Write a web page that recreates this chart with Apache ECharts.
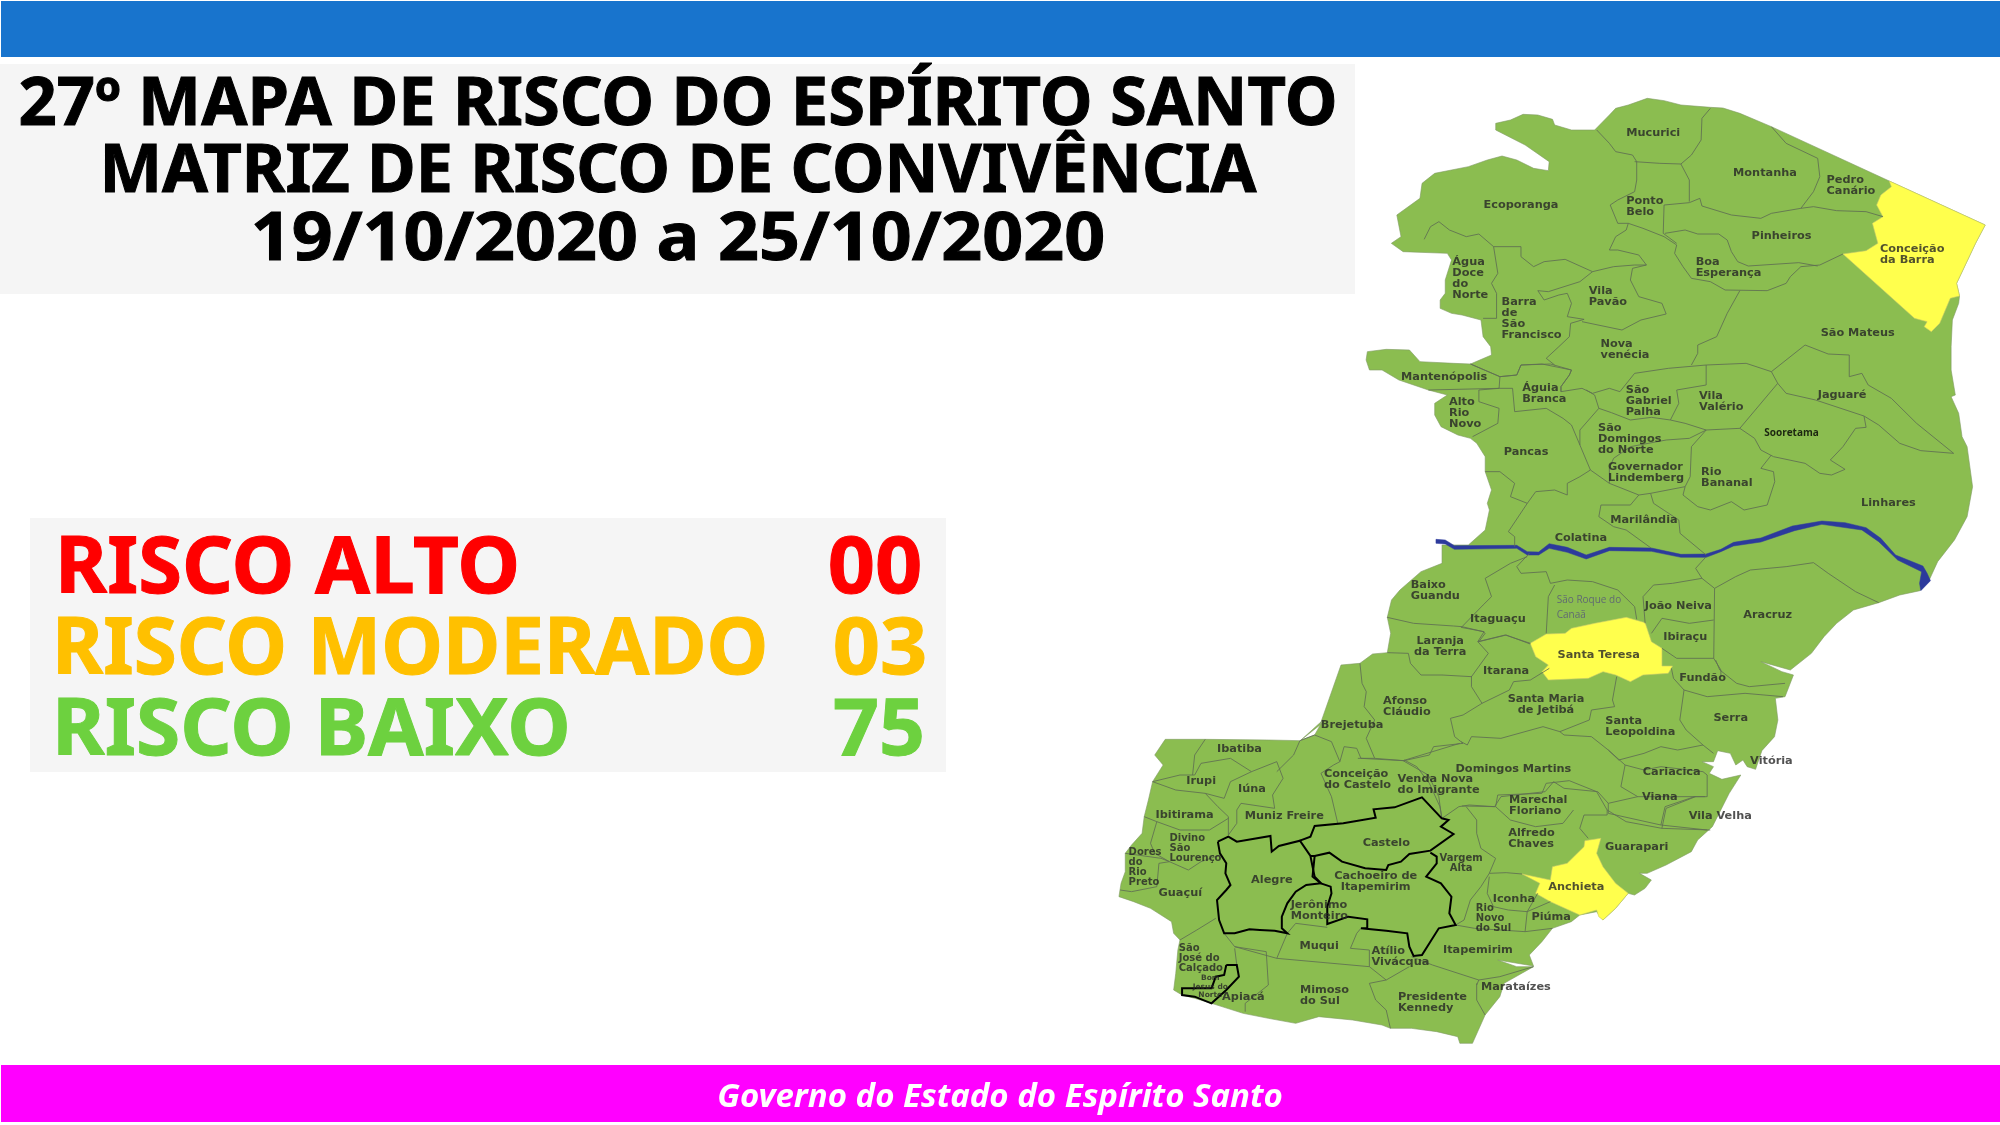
<!DOCTYPE html>
<html>
<head>
<meta charset="utf-8">
<title>Mapa de risco ES</title>
<script src="https://cdn.jsdelivr.net/npm/echarts@6/dist/echarts.min.js"></script>
<style>
  html, body { margin: 0; padding: 0; background: #fff; }
  #chart { width: 2000px; height: 1125px; }
</style>
</head>
<body>
<div id="chart"></div>
<script>
const titleLines = ['27º MAPA DE RISCO DO ESPÍRITO SANTO', 'MATRIZ DE RISCO DE CONVIVÊNCIA', '19/10/2020 a 25/10/2020'];
const footerText = 'Governo do Estado do Espírito Santo';
const riskNames = ['RISCO ALTO', 'RISCO MODERADO', 'RISCO BAIXO'];
const riskCounts = ['00', '03', '75'];
const moderateCities = ['Conceição\nda Barra', 'Santa Teresa', 'Anchieta'];
const cityNames = [
  'Mucurici', 'Montanha', 'Pedro\nCanário', 'Conceição\nda Barra', 'Ponto\nBelo', 'Ecoporanga', 'Pinheiros',
  'Boa\nEsperança', 'Água\nDoce\ndo\nNorte', 'Vila\nPavão', 'Barra\nde\nSão\nFrancisco', 'São Mateus', 'Nova\nvenécia',
  'Mantenópolis', 'Águia\nBranca', 'São\nGabriel\nPalha', 'Vila\nValério', 'Jaguaré', 'Alto\nRio\nNovo', 'Pancas',
  'São\nDomingos\ndo Norte', 'Sooretama', 'Governador\nLindemberg', 'Rio\nBananal', 'Linhares', 'Marilândia', 'Colatina',
  'Baixo\nGuandu', 'Itaguaçu', 'São Roque do\nCanaã', 'João Neiva', 'Aracruz', 'Ibiraçu', 'Laranja\nda Terra',
  'Santa Teresa', 'Itarana', 'Fundão', 'Afonso\nCláudio', 'Santa Maria\nde Jetibá', 'Brejetuba', 'Santa\nLeopoldina',
  'Serra', 'Vitória', 'Domingos Martins', 'Cariacica', 'Viana', 'Vila Velha', 'Ibatiba', 'Irupi', 'Iúna',
  'Conceição\ndo Castelo', 'Venda Nova\ndo Imigrante', 'Ibitirama', 'Muniz Freire', 'Marechal\nFloriano', 'Castelo',
  'Alfredo\nChaves', 'Guarapari', 'Divino\nSão\nLourenço', 'Dores\ndo\nRio\nPreto', 'Vargem\nAlta', 'Alegre',
  'Cachoeiro de\nItapemirim', 'Anchieta', 'Guaçuí', 'Iconha', 'Jerônimo\nMonteiro', 'Rio\nNovo\ndo Sul', 'Piúma', 'Muqui',
  'Itapemirim', 'Atílio\nVivácqua', 'São\nJosé do\nCalçado', 'Marataízes', 'Bom\nJesus do\nNorte', 'Apiacá',
  'Mimoso\ndo Sul', 'Presidente\nKennedy'
];

// o mapa foi traçado em quatro recortes, cada um com sua origem
const sheet = (x0, y0) => pts => pts.map(p => [x0 + p[0] / 2.376, -(y0 + p[1] / 3)]);
const A = sheet(1340, 80), B = sheet(1340, 340), C = sheet(1240, 540), D = sheet(1100, 720);

const outline = [
  ...A([[370,130],[405,120],[435,103],[470,105],[505,118],[510,135],[550,150],[605,150],[640,105],[655,85],[685,75],[730,55],[770,62],[810,75],[880,82],[910,84],[950,100],[1025,140],[1305,303],[1533,435],[1510,490],[1480,570],[1465,610],[1472,648],[1470,670],[1455,720],[1452,800]]),
  ...B([[1452,90],[1462,165],[1452,170],[1470,220],[1478,290],[1490,320],[1503,440],[1490,530],[1460,600],[1420,665],[1400,720],[1378,752],[1330,765],[1280,788],[1220,810],[1180,850],[1150,890],[1120,940],[1070,990],[1000,965],[1050,995]]),
  ...C([[1315,405],[1295,470],[1272,475],[1278,540],[1270,590],[1240,632],[1225,688],[1205,680],[1195,660],[1178,675],[1165,640],[1135,632],[1125,665],[1098,665],[1125,680],[1115,700],[1145,718],[1190,705]]),
  ...D([[1495,220],[1455,320],[1420,360],[1405,395],[1345,435],[1300,460],[1282,460],[1310,480],[1295,505],[1270,525],[1255,520],[1225,565],[1195,600],[1180,575],[1140,585],[1120,605],[1075,625],[1050,665],[1020,705],[1030,738],[945,720],[990,740],[1030,740],[960,790],[950,830],[915,885],[885,970],[855,970],[850,950],[800,935],[740,925],[690,925],[670,915],[600,900],[520,890],[465,910],[400,895],[340,880],[265,850],[225,835],[195,825],[175,810],[180,760],[185,690],[190,660],[175,640],[170,605],[120,565],[80,545],[45,530],[50,490],[60,455],[60,400],[75,375],[100,340],[105,290],[115,240],[125,185],[150,135],[130,105],[155,58],[250,58],[400,60],[475,62],[510,45],[530,0]]),
  ...C([[145,600],[190,555],[240,375],[285,370],[315,342],[350,338],[358,280],[350,232],[360,180],[380,150],[430,95],[480,70],[480,15]]),
  ...B([[305,615],[345,570],[355,510],[350,490],[360,450],[345,395],[345,350],[325,310],[310,295],[280,285],[240,260],[225,225],[225,190],[255,165],[210,150],[140,120],[100,90],[70,90],[62,60],[65,35],[110,28],[165,30],[190,65],[270,70],[310,72],[360,45],[358,20],[340,-10],[335,-60],[290,-75],[265,-80],[238,-95],[238,-120],[250,-140],[250,-180],[265,-240],[255,-260]]),
  ...A([[150,515],[122,490],[145,470],[135,405],[190,355],[195,310],[225,280],[305,260],[350,240],[385,228],[420,240],[460,265],[495,272],[497,245],[440,195],[370,150]])
];
const barraShape = A([[1305,303],[1533,435],[1510,490],[1480,570],[1465,610],[1472,648],[1450,655],[1435,700],[1425,730],[1405,755],[1388,740],[1395,725],[1365,715],[1195,522],[1250,512],[1278,490],[1265,430],[1290,410],[1275,375],[1285,345],[1310,320]]);
const teresaShape = B([[452,910],[490,882],[535,880],[550,865],[605,850],[680,832],[725,848],[740,905],[765,925],[765,978],[790,978],[780,1000],[720,1005],[690,1025],[655,1005],[625,995],[590,1015],[495,1020],[480,995],[495,975],[465,950]]);
const anchietaShape = D([[1190,355],[1180,400],[1195,440],[1225,490],[1255,520],[1225,565],[1195,600],[1185,590],[1180,570],[1140,585],[1070,545],[1035,520],[1045,490],[1003,462],[1070,480],[1075,440],[1110,430],[1150,380],[1152,362]]);

// Rio Doce: margem de cima e depois a de baixo
const riverShape = B([[228,598],[250,600],[272,617],[420,616],[445,635],[472,636],[497,611],[540,622],[585,645],[640,622],[740,624],[810,643],[870,642],[905,628],[935,607],[1000,594],[1075,558],[1145,543],[1200,548],[1250,563],[1285,595],[1320,645],[1385,678],[1395,700],[1403,722],[1380,752],[1377,730],[1382,695],[1325,660],[1280,605],[1240,570],[1145,553],[1080,572],[1000,606],[935,618],[905,635],[870,652],[810,652],[740,634],[640,632],[585,657],[540,637],[497,625],[472,645],[445,645],[420,625],[272,628],[250,612],[228,610]]);

const blackPaths = [
  D([[280,365],[305,350],[325,365],[405,348],[408,395],[425,378],[475,362],[500,408],[505,440],[510,470],[525,490],[490,495],[465,515],[445,550],[432,590],[432,625],[445,640],[415,632],[380,630],[355,628],[320,640],[295,640],[283,600],[278,540],[300,510],[310,495],[298,460],[300,430],[285,400],[280,365]]),
  D([[475,362],[500,350],[510,318],[578,310],[655,293],[650,268],[700,262],[765,232],[812,295],[828,300],[810,320],[840,342],[785,392],[735,402],[715,425],[685,435],[680,450],[630,445],[575,425],[545,398],[510,408],[500,408]]),
  D([[510,408],[505,470],[525,490],[548,500],[550,520],[540,560],[540,612],[590,590],[635,598],[635,625],[620,625],[680,632],[730,640],[735,680],[745,708],[765,705],[805,625],[845,615],[830,580],[835,530],[810,490],[775,470],[800,430],[800,410],[785,398]]),
  D([[300,735],[325,735],[330,770],[300,810],[265,850],[225,830],[195,825],[195,805],[265,805],[275,770],[295,765],[300,735]])
];

const borderPaths = [
  A([[610,150],[640,190],[655,215],[695,225],[705,245],[705,300],[700,335],[660,360],[642,375],[660,430],[685,430],[680,450],[655,470],[640,510]]),
  A([[700,245],[760,250],[810,252]]),
  A([[880,85],[860,115],[858,180],[835,225],[810,252],[830,300],[830,365]]),
  A([[770,375],[830,368],[855,355],[860,378],[930,405],[1000,415],[1025,400],[1095,385],[1125,380],[1180,392],[1250,395],[1290,410]]),
  A([[1025,140],[1060,190],[1135,235],[1140,290],[1125,335],[1095,385]]),
  A([[770,375],[768,460],[800,490]]),
  A([[685,430],[720,445],[770,470],[800,495],[795,520],[815,560],[835,595],[880,605],[915,630],[1015,632],[1060,610],[1070,590],[1095,560],[1140,555],[1195,522]]),
  A([[772,460],[820,450],[850,462],[900,462],[920,480],[930,515],[945,545],[970,558],[1090,548],[1135,558]]),
  A([[200,478],[215,440],[235,425],[260,450],[300,470],[330,462],[365,500],[430,500],[430,530],[460,560],[485,545],[535,538],[600,575],[650,560],[700,555],[728,555],[710,525],[660,510],[640,510]]),
  A([[600,575],[570,605],[495,635],[470,632],[485,660],[520,645],[540,640],[550,670],[540,710],[580,718],[548,730]]),
  A([[575,725],[670,750],[715,720],[775,702],[765,670],[710,650],[690,600],[695,565],[728,555]]),
  A([[365,500],[375,580],[360,610],[372,640],[372,715],[340,715]]),
  A([[548,730],[545,770],[520,800],[490,835],[510,855]]),
  A([[310,852],[380,890],[420,885],[430,855],[480,852],[550,870],[545,885],[525,920],[525,935],[575,925],[600,940],[640,925],[665,935],[700,880],[780,865],[870,855],[965,850],[1025,875]]),
  A([[950,632],[920,700],[895,770],[850,795],[850,820],[835,855]]),
  A([[1025,875],[1105,795],[1160,822],[1210,825],[1210,890],[1240,880],[1255,915],[1310,955],[1370,1030],[1458,1120]]),
  B([[1245,228],[1250,262],[1225,265],[1195,320],[1165,360],[1200,388],[1168,405],[1140,400],[1105,370],[1030,350],[1000,330],[985,295],[950,265]]),
  B([[1040,130],[1060,160],[1130,180],[1245,228],[1280,255],[1330,310],[1380,332],[1458,340]]),
  B([[1025,95],[1040,130],[950,265],[870,270]]),
  B([[870,75],[870,135],[800,150],[805,190],[785,240],[820,250],[870,270]]),
  B([[785,240],[740,232],[690,240],[645,218],[615,205],[605,165],[585,150]]),
  B([[310,72],[380,110],[378,145],[330,150],[330,185],[378,205],[375,250],[315,290]]),
  B([[210,150],[378,145],[410,145],[415,215],[490,205],[530,235],[550,255],[570,315],[595,390],[570,410],[540,430],[540,465],[510,450],[465,455],[445,490],[405,470],[415,430],[380,395],[345,395]]),
  B([[380,110],[420,105],[430,75],[500,72],[550,90],[545,105],[525,140],[525,155]]),
  B([[615,205],[570,270],[570,315]]),
  B([[595,390],[640,430],[710,465],[738,460],[820,440],[832,410],[835,320],[870,270]]),
  B([[640,430],[640,385],[650,355],[690,320],[775,300],[830,295],[870,270]]),
  B([[820,440],[815,465],[850,500],[880,510],[930,485],[960,510],[1015,495],[1033,425],[1030,395],[1000,385],[1025,345]]),
  B([[710,465],[690,495],[620,495],[615,530],[650,560],[680,570],[740,625]]),
  B([[738,460],[745,490],[805,540],[808,580],[870,645]]),
  B([[445,490],[400,575],[415,590],[415,620]]),
  B([[450,640],[420,680],[430,700],[490,695],[500,730],[540,720],[600,725],[660,750],[700,800],[705,838]]),
  B([[445,650],[405,670],[345,715],[360,770],[340,795],[290,860],[340,875],[345,880],[330,905],[395,885],[452,912]]),
  B([[870,650],[845,685],[860,715],[890,745],[940,710],[975,690],[1060,680],[1125,668],[1160,700],[1225,755],[1280,788]]),
  B([[890,745],[888,955],[905,990],[905,1010]]),
  B([[860,715],[790,730],[745,735],[720,770],[725,850]]),
  B([[740,880],[765,835],[830,850],[888,840]]),
  B([[765,925],[800,955],[888,955]]),
  B([[510,735],[495,770],[490,880]]),
  B([[112,832],[175,850],[270,858],[290,860]]),
  C([[525,262],[580,275],[565,305],[590,340],[550,410],[480,405],[430,405],[405,370],[400,340],[350,338]]),
  C([[565,305],[630,285],[690,310]]),
  C([[735,385],[690,420],[650,425],[640,450],[575,490],[550,440],[550,408]]),
  C([[285,370],[290,430],[300,455],[295,500],[320,540],[300,595],[320,655]]),
  C([[575,490],[530,525],[500,535],[510,590],[530,610],[460,620],[450,645],[390,662],[320,655],[280,655]]),
  C([[895,410],[885,480],[890,500],[835,510],[830,540],[760,575],[720,560],[620,595],[550,590],[540,615],[525,605]]),
  C([[760,575],[770,585],[835,590],[875,630],[900,660],[960,640],[1000,620],[1040,630],[1100,615],[1060,570],[1045,540],[1055,450],[1030,415],[1025,385]]),
  C([[1055,450],[1110,470],[1200,460],[1290,470]]),
  C([[1130,360],[1140,390],[1180,430],[1210,440],[1295,430]]),
  C([[1100,615],[1125,640]]),
  C([[390,660],[420,680],[450,730],[475,800],[480,835]]),
  C([[875,630],[915,675],[905,740],[945,770],[875,790],[850,755],[770,745],[745,725],[725,755],[620,770],[605,800],[545,795],[520,800],[480,835]]),
  C([[915,675],[960,690],[1000,680],[1100,695],[1110,705],[1110,770],[1105,770]]),
  C([[945,770],[1000,770],[1105,770]]),
  C([[875,790],[875,820],[1000,855],[1010,800],[1080,770],[1105,770]]),
  C([[1000,855],[1110,870]]),
  D([[945,225],[1050,220],[1060,190],[1115,182],[1180,215],[1205,270],[1205,285]]),
  D([[940,260],[975,300],[1035,320],[1100,310],[1125,270]]),
  D([[860,258],[940,260],[945,225]]),
  D([[870,260],[895,300],[895,340],[905,385],[940,415],[925,460],[905,500],[880,540],[865,600],[845,615]]),
  D([[1205,285],[1150,285],[1140,325],[1160,355]]),
  D([[925,460],[965,458],[1003,462]]),
  D([[925,470],[920,520],[935,560],[970,570],[1015,575],[1040,520]]),
  D([[1015,575],[1070,545]]),
  D([[845,615],[890,625],[1010,635],[1075,625]]),
  D([[1015,575],[1010,635]]),
  D([[1205,270],[1250,305],[1335,325],[1450,330]]),
  D([[1335,325],[1345,265],[1415,230]]),
  D([[250,58],[225,105],[220,165]]),
  D([[125,185],[190,165],[225,165],[240,130],[310,115],[360,155],[310,185],[295,235]]),
  D([[360,155],[420,125],[435,175],[410,225],[415,265],[335,250],[325,270],[325,310],[305,345]]),
  D([[475,62],[460,105],[420,155]]),
  D([[125,185],[180,210],[250,220],[295,235]]),
  D([[250,220],[280,260],[305,290],[305,345]]),
  D([[105,290],[135,305],[190,330],[260,330],[305,295]]),
  D([[135,305],[120,370],[130,400],[165,425],[210,450],[240,425],[285,405]]),
  D([[60,400],[145,415],[165,425],[140,430],[135,500],[75,515],[48,510]]),
  D([[190,660],[230,630],[275,595]]),
  D([[320,685],[325,735]]),
  D([[295,640],[320,680],[395,695],[400,795],[345,850],[345,875]]),
  D([[320,680],[420,715],[640,740],[680,780],[735,740]]),
  D([[445,640],[420,715]]),
  D([[445,640],[465,610],[540,622]]),
  D([[595,685],[610,640],[620,625]]),
  D([[595,685],[640,690],[640,740]]),
  D([[740,710],[790,735],[900,780],[895,795]]),
  D([[680,780],[640,790],[655,840],[680,870],[690,925]]),
  D([[900,780],[950,770],[1030,740]]),
  D([[895,790],[895,840],[915,885]]),
  D([[475,62],[510,45],[550,65],[570,125],[555,135],[525,160],[550,230],[565,310]]),
  D([[570,125],[580,80],[610,85],[620,115],[720,122],[855,70]]),
  D([[720,122],[780,165],[805,230],[812,295]])
];

// ponto de cada rótulo, na mesma ordem de cityNames
const labelPoints = [
  ...A([[680,160],[934,278],[1156,318],[1283,524],[680,381],[341,375],[978,467],[845,563],[267,595],[591,650],[384,716],[1142,759],[619,808],[145,891],[433,940],[679,962],[853,965],[1135,946]]),
  ...B([[259,218],[389,335],[613,298],[1008,279],[637,399],[858,412],[1238,488],[642,540],[510,593],[168,751],[309,836],[515,802],[724,799],[958,824],[768,891],[238,919],[517,946],[340,992],[806,1013]]),
  ...C([[340,501],[727,495],[192,555],[868,560],[1125,535],[1212,662],[512,687],[957,697],[955,772],[1066,827]]),
  ...D([[278,87],[205,184],[328,207],[532,180],[707,195],[132,285],[344,287],[972,256],[624,370],[970,356],[1200,380],[165,385],[68,443],[858,430],[359,480],[655,485],[1065,500],[139,518],[933,536],[453,572],[893,596],[1025,591],[474,677],[815,690],[645,711],[187,715],[905,802],[262,800],[290,830],[475,827],[708,848]])
];
const centeredLabels = ['Laranja\nda Terra', 'Santa Maria\nde Jetibá', 'Vargem\nAlta', 'Cachoeiro de\nItapemirim', 'Bom\nJesus do\nNorte'];
const smallLabels = ['Divino\nSão\nLourenço', 'Dores\ndo\nRio\nPreto', 'Vargem\nAlta', 'Rio\nNovo\ndo Sul', 'São\nJosé do\nCalçado'];

const feature = (name, ring) => ({ type: 'Feature', properties: { name: name }, geometry: { type: 'Polygon', coordinates: [ring] } });
const moderateShapes = [barraShape, teresaShape, anchietaShape];

echarts.registerMap('es', {
  type: 'FeatureCollection',
  features: [feature('Espírito Santo', outline)]
    .concat(moderateCities.map((c, i) => feature(c, moderateShapes[i])))
    .concat([feature('Rio Doce', riverShape)])
});

const chart = echarts.init(document.getElementById('chart'), null, { renderer: 'canvas' });

const titleY = [106, 173, 241];
const titleStretch = [1.013, 1.007, 1.085];
const riskY = [571, 652, 733];
const riskX = [55, 52, 52];
const riskStretch = [1.02, 1.002, 1.03];
const countX = [875, 880, 879];
const countStretch = [1.06, 1.06, 1.03];
const riskColors = ['#FF0000', '#FFC000', '#6DD13F'];

const labelData = cityNames.map((name, i) => {
  const centered = centeredLabels.includes(name);
  const label = { position: centered ? 'inside' : 'right', distance: 0, align: centered ? 'center' : 'left' };
  if (smallLabels.includes(name)) { label.fontSize = 10; label.lineHeight = 10; }
  if (name === 'Bom\nJesus do\nNorte') { label.fontSize = 7.5; label.lineHeight = 8.5; }
  if (name === 'Sooretama') { Object.assign(label, { fontFamily: 'Open Sans', fontSize: 10, color: '#000' }); }
  if (name === 'São Roque do\nCanaã') { Object.assign(label, { fontFamily: 'Open Sans', fontWeight: 'normal', fontSize: 10, lineHeight: 15, color: '#55557a' }); }
  return { name: name, value: labelPoints[i], label: label };
});

chart.setOption({
  animation: false,
  backgroundColor: '#fff',
  geo: {
    map: 'es',
    silent: true,
    roam: false,
    aspectScale: 1,
    left: 0,
    top: 0,
    width: 2000,
    height: 1125,
    boundingCoords: [[0, 0], [2000, -1125]],
    label: { show: false },
    itemStyle: { areaColor: '#8BBD50', borderColor: '#7f9a63', borderWidth: 0.6 },
    regions: moderateCities.map(c => ({ name: c, itemStyle: { areaColor: '#FFFF4D', borderColor: '#c9c96a', borderWidth: 0.6 } }))
      .concat([{ name: 'Rio Doce', itemStyle: { areaColor: '#2C3A9C', borderColor: '#2C3A9C', borderWidth: 0.5 } }])
  },
  series: [
    {
      type: 'lines', coordinateSystem: 'geo', polyline: true, silent: true, z: 1,
      lineStyle: { color: '#5f6f52', width: 1, opacity: 0.85 },
      data: borderPaths.map(p => ({ coords: p }))
    },
    {
      type: 'lines', coordinateSystem: 'geo', polyline: true, silent: true, z: 4,
      lineStyle: { color: '#000', width: 2, opacity: 1 },
      data: blackPaths.map(p => ({ coords: p }))
    },
    {
      type: 'scatter', coordinateSystem: 'geo', silent: true, z: 6, symbolSize: 0,
      label: {
        show: true, formatter: '{b}', fontFamily: 'DejaVu Sans', fontWeight: 'bold',
        fontSize: 11.3, lineHeight: 11, color: '#262626', verticalAlign: 'middle'
      },
      data: labelData
    }
  ],
  graphic: [
    { type: 'rect', shape: { x: 1, y: 1, width: 1999, height: 56 }, style: { fill: '#1874CD' } },
    { type: 'rect', shape: { x: 1, y: 1065, width: 1999, height: 57 }, style: { fill: '#FF00FF' } },
    { type: 'rect', shape: { x: 0, y: 64, width: 1355, height: 230 }, style: { fill: '#F5F5F5' } },
    { type: 'rect', shape: { x: 30, y: 518, width: 916, height: 254 }, style: { fill: '#F5F5F5' } },
    ...titleLines.map((t, i) => ({
      type: 'text', x: 678, y: titleY[i], scaleX: titleStretch[i],
      style: { text: t, fill: '#000', stroke: '#000', lineWidth: 1, font: 'bold 66px "Noto Sans"', textAlign: 'center', textVerticalAlign: 'middle' }
    })),
    ...riskNames.map((t, i) => ({
      type: 'text', x: riskX[i], y: riskY[i], scaleX: riskStretch[i],
      style: { text: t, fill: riskColors[i], stroke: riskColors[i], lineWidth: 1, font: 'bold 78px "Noto Sans"', textAlign: 'left', textVerticalAlign: 'middle' }
    })),
    ...riskCounts.map((t, i) => ({
      type: 'text', x: countX[i], y: riskY[i], scaleX: countStretch[i],
      style: { text: t, fill: riskColors[i], stroke: riskColors[i], lineWidth: 1, font: 'bold 78px "Noto Sans"', textAlign: 'center', textVerticalAlign: 'middle' }
    })),
    {
      type: 'text', x: 1000, y: 1098,
      style: { text: footerText, fill: '#fff', font: 'italic bold 33px "Noto Sans"', textAlign: 'center', textVerticalAlign: 'middle' }
    }
  ]
});

window.addEventListener('resize', chart.resize);
</script>
</body>
</html>
